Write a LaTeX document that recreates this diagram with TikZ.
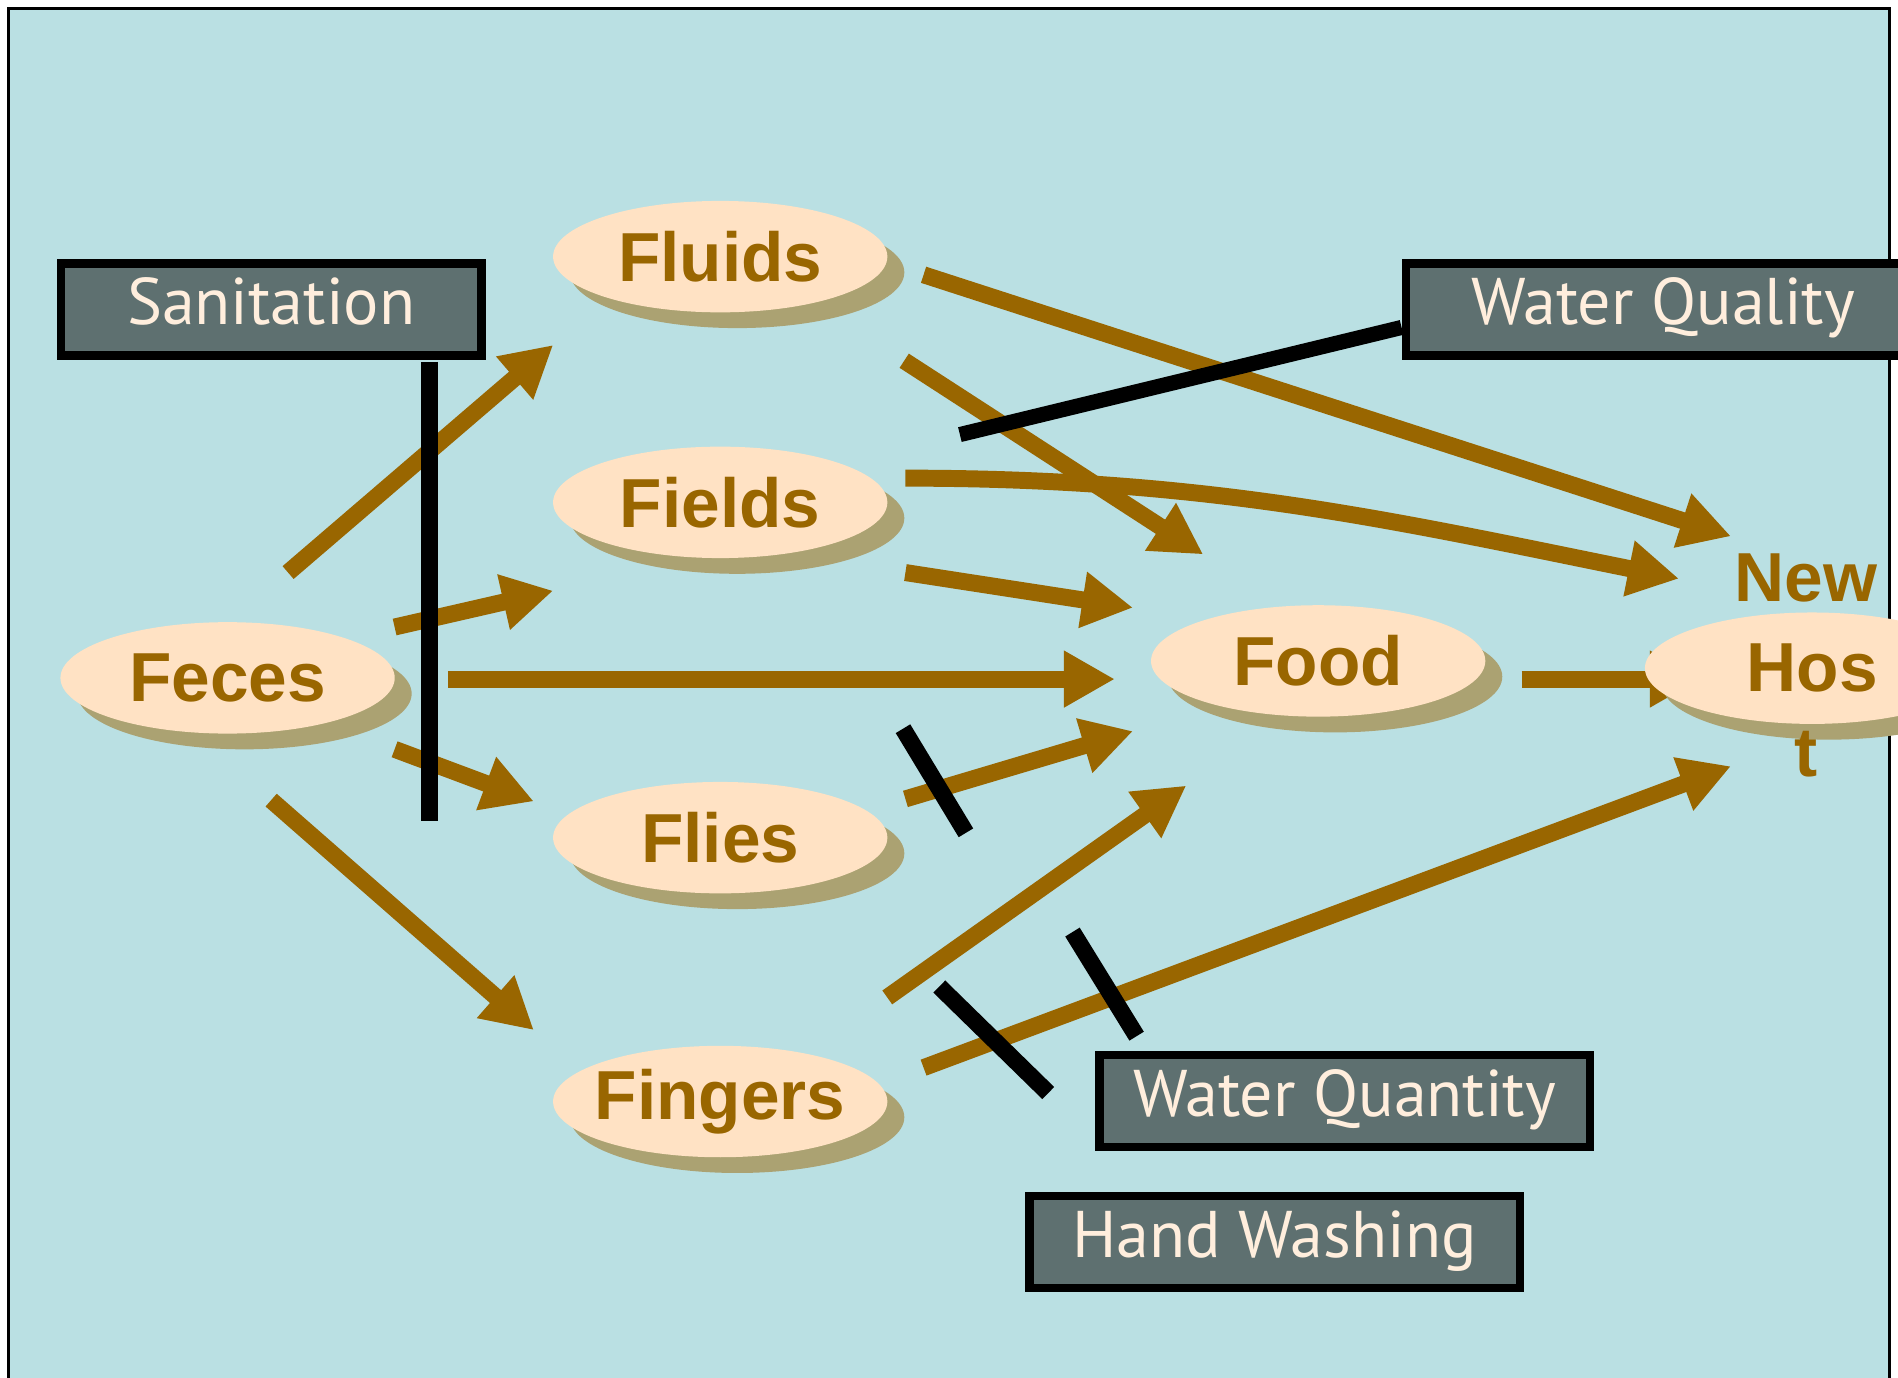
\documentclass[tikz,border=0pt]{standalone}
\usepackage{fontspec}
\setmainfont{Liberation Sans}
\newfontfamily\remedyfont{PT Sans}
\usetikzlibrary{arrows.meta,shapes.geometric,shadows}
\definecolor{pool}{HTML}{BAE0E3}
\definecolor{peach}{HTML}{FFE2C4}
\definecolor{dun}{HTML}{ABA272}
\definecolor{umber}{HTML}{996600}
\definecolor{slate}{HTML}{5E7070}
\definecolor{cream}{HTML}{FFEEDD}
\begin{document}
\begin{tikzpicture}[x=0.01cm,y=-0.01cm,
    place/.style={
      % The shape:
      ellipse,minimum width=27.6mm,minimum height=9.2mm,inner sep=-2mm,
      % The rest
      fill=peach,general shadow={fill=dun,shadow xshift=1.4mm,shadow yshift=-1.3mm},
      text=umber,font=\fontsize{16.3}{19}\selectfont\bfseries},
    hostword/.style={text=umber,inner sep=0pt,font=\fontsize{16.3}{19}\selectfont\bfseries},
    remedy/.style={rectangle,draw=black,line width=0.7mm,fill=slate,
      text=cream,font=\remedyfont\fontsize{15.5}{18}\selectfont,
      text height=3.7mm,text depth=1.2mm,minimum height=7.6mm,inner sep=0pt},
    flow/.style={-{Triangle[length=4.2mm,width=4.4mm]},line width=1.4mm,draw=umber},
    block/.style={line width=1.4mm,draw=black}]
    \useasboundingbox (0,0) rectangle (1568,1138);
    \fill[white] (0,0) rectangle (1568,1138);
    \draw[fill=pool,line width=0.2mm] (7,1160) -- (7,7) -- (1561,7) -- (1561,1160);
    % places
    \node (feces)   [place] at (188,560) {Feces};
    \node (fluids)  [place] at (595,212) {Fluids};
    \node (fields)  [place] at (595,415) {Fields};
    \node (flies)   [place] at (595,692) {Flies};
    \node (fingers) [place] at (595,910) {Fingers};
    \node (food)    [place] at (1089,546) {Food};
    % arrow ends
    \coordinate (fe-a1) at (238,473);  \coordinate (fe-a2) at (457,285);
    \coordinate (fe-b1) at (326,518);  \coordinate (fe-b2) at (457,488);
    \coordinate (fe-c1) at (370,561);  \coordinate (fe-c2) at (921,561);
    \coordinate (fe-d1) at (326,619);  \coordinate (fe-d2) at (441,662);
    \coordinate (fe-e1) at (224,661);  \coordinate (fe-e2) at (441,851);
    \coordinate (fl-a1) at (763,227);  \coordinate (fl-a2) at (1430,443);
    \coordinate (fl-b1) at (747,298);  \coordinate (fl-b2) at (994,458);
    \coordinate (fi-a1) at (748,395);  \coordinate (fi-a2) at (1387,478);
    \coordinate (fi-b1) at (748,473);  \coordinate (fi-b2) at (936,502);
    \coordinate (fy-a1) at (748,660);  \coordinate (fy-a2) at (936,604);
    \coordinate (fg-a1) at (733,824);  \coordinate (fg-a2) at (980,649);
    \coordinate (fg-b1) at (763,882);  \coordinate (fg-b2) at (1430,633);
    \coordinate (fo-a1) at (1257,561); \coordinate (fo-a2) at (1405,561);
    \draw[flow] (fe-a1) -- (fe-a2);
    \draw[flow] (fe-b1) -- (fe-b2);
    \draw[flow] (fe-c1) -- (fe-c2);
    \draw[flow] (fe-d1) -- (fe-d2);
    \draw[flow] (fe-e1) -- (fe-e2);
    \draw[flow] (fl-a1) -- (fl-a2);
    \draw[flow] (fl-b1) -- (fl-b2);
    \draw[flow] (fi-a1) .. controls (1000,395) and (1150,430) .. (fi-a2);
    \draw[flow] (fi-b1) -- (fi-b2);
    \draw[flow] (fy-a1) -- (fy-a2);
    \draw[flow] (fg-a1) -- (fg-a2);
    \draw[flow] (fg-b1) -- (fg-b2);
    \draw[flow] (fo-a1) -- (fo-a2);
    \node (host) [place,
      label={[hostword,label distance=0.7mm,xshift=-0.5mm]above:New},
      label={[hostword,label distance=0.5mm,xshift=-0.5mm]below:t}] at (1497,552) {Hos};
    % remedies
    \node (sanit)  [remedy,minimum width=34.7mm] at (224,255.5) {Sanitation};
    \node (wqual)  [remedy,minimum width=42.5mm] at (1374,255.5) {Water Quality};
    \node (wquant) [remedy,minimum width=40.5mm] at (1111,909.5) {Water Quantity};
    \node (handw)  [remedy,minimum width=40.5mm] at (1053,1026) {Hand Washing};
    % barriers
    \coordinate (san-1) at (355,299);  \coordinate (san-2) at (355,678);
    \coordinate (wql-1) at (793,359);
    \coordinate (fly-1) at (746,602);  \coordinate (fly-2) at (798,688);
    \coordinate (wqn-1) at (886,770);  \coordinate (wqn-2) at (939,856);
    \coordinate (hw-1)  at (776,815);  \coordinate (hw-2)  at (866,903);
    \draw[block] (san-1) -- (san-2);
    \draw[block,line width=1.25mm] ([yshift=-1.5mm]wqual.west) -- (wql-1);
    \draw[block] (fly-1) -- (fly-2);
    \draw[block] (wqn-1) -- (wqn-2);
    \draw[block] (hw-1) -- (hw-2);
\end{tikzpicture}
\end{document}
